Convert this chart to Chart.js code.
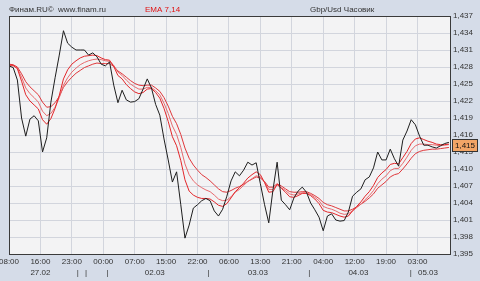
<!DOCTYPE html>
<html lang="ru">
<head>
<meta charset="UTF-8">
<title>Gbp/Usd Часовик</title>
<script src="https://cdn.jsdelivr.net/npm/chart.js@4.4.1/dist/chart.umd.min.js"></script>
<style>
  html, body { margin: 0; padding: 0; background: #d5dce8; }
  #wrap { width: 480px; height: 281px; }
</style>
</head>
<body>
<div id="wrap"><canvas id="chart" width="480" height="281"></canvas></div>
<script>
// time labels under the vertical grid lines (one grid step = 7.5 hourly bars)
const timeLabels = ['08:00','16:00','23:00','00:00','07:00','15:00','22:00','06:00','13:00','21:00','04:00','12:00','19:00','03:00'];
const timeStep = 7.5;
// date labels and day separators (bar index)
const dateLabels = ['27.02','02.03','03.03','04.03','05.03'];
const datePos = [7.5, 34.8, 59.4, 83.4, 100];
const dayMarks = [16.4, 18.4, 23.5, 47.6, 71.7, 95.9];
const yTicks = [1.395,1.398,1.401,1.404,1.407,1.410,1.413,1.416,1.419,1.422,1.425,1.428,1.431,1.434,1.437];

// hourly close
const closes = [1.4282,1.4279,1.4257,1.4190,1.4158,1.4188,1.4194,1.4185,1.4130,1.4155,
  1.4218,1.4261,1.4301,1.4344,1.4322,1.4315,1.4310,1.4310,1.4310,1.4301,
  1.4305,1.4298,1.4285,1.4282,1.4289,1.4248,1.4217,1.4239,1.4222,1.4218,
  1.4219,1.4224,1.4241,1.4259,1.4243,1.4214,1.4195,1.4153,1.4116,1.4077,
  1.4095,1.4037,1.3978,1.4001,1.4031,1.4037,1.4044,1.4048,1.4044,1.4026,
  1.4017,1.4029,1.4052,1.4079,1.4095,1.4088,1.4098,1.4112,1.4107,1.4111,
  1.4074,1.4037,1.4005,1.4063,1.4112,1.4045,1.4037,1.4028,1.4049,1.4061,
  1.4068,1.4059,1.4040,1.4028,1.4015,1.3991,1.4017,1.4021,1.4010,1.4008,
  1.4009,1.4024,1.4052,1.4059,1.4065,1.4081,1.4086,1.4102,1.4130,1.4116,
  1.4116,1.4135,1.4118,1.4105,1.4151,1.4167,1.4187,1.4178,1.4158,1.4142,
  1.4142,1.4139,1.4137,1.4141,1.4145,1.4147];

// EMA 7 (fast red line)
const ema7 = [1.4284,1.4283,1.4277,1.4255,1.4231,1.4220,1.4213,1.4206,1.4187,1.4179,
  1.4189,1.4207,1.4230,1.4259,1.4275,1.4285,1.4291,1.4296,1.4299,1.4300,
  1.4301,1.4300,1.4296,1.4293,1.4292,1.4281,1.4265,1.4259,1.4249,1.4242,
  1.4236,1.4233,1.4235,1.4241,1.4242,1.4235,1.4225,1.4207,1.4184,1.4157,
  1.4141,1.4115,1.4081,1.4061,1.4054,1.4050,1.4048,1.4048,1.4047,1.4042,
  1.4036,1.4034,1.4039,1.4049,1.4060,1.4067,1.4075,1.4084,1.4090,1.4095,
  1.4090,1.4076,1.4059,1.4060,1.4073,1.4066,1.4059,1.4051,1.4050,1.4053,
  1.4057,1.4057,1.4053,1.4047,1.4039,1.4027,1.4024,1.4023,1.4020,1.4017,
  1.4015,1.4017,1.4026,1.4034,1.4042,1.4052,1.4060,1.4071,1.4085,1.4093,
  1.4099,1.4108,1.4110,1.4109,1.4120,1.4131,1.4145,1.4153,1.4155,1.4152,
  1.4149,1.4147,1.4144,1.4143,1.4143,1.4144];

// middle red line
const emaMid = [1.4283,1.4282,1.4278,1.4262,1.4243,1.4233,1.4226,1.4218,1.4202,1.4194,
  1.4198,1.4209,1.4226,1.4248,1.4261,1.4271,1.4278,1.4284,1.4288,1.4291,
  1.4293,1.4294,1.4293,1.4291,1.4290,1.4283,1.4271,1.4265,1.4257,1.4250,
  1.4245,1.4241,1.4241,1.4244,1.4244,1.4238,1.4231,1.4216,1.4198,1.4176,
  1.4161,1.4138,1.4109,1.4090,1.4079,1.4072,1.4067,1.4063,1.4060,1.4054,
  1.4047,1.4044,1.4045,1.4051,1.4059,1.4064,1.4071,1.4078,1.4083,1.4088,
  1.4086,1.4077,1.4064,1.4064,1.4072,1.4067,1.4062,1.4056,1.4054,1.4056,
  1.4058,1.4058,1.4055,1.4050,1.4044,1.4034,1.4031,1.4029,1.4026,1.4022,
  1.4020,1.4021,1.4026,1.4032,1.4038,1.4046,1.4053,1.4062,1.4074,1.4082,
  1.4088,1.4097,1.4101,1.4101,1.4110,1.4121,1.4133,1.4141,1.4144,1.4144,
  1.4143,1.4143,1.4142,1.4141,1.4142,1.4143];

// EMA 14 (slow red line)
const ema14 = [1.4285,1.4284,1.4280,1.4268,1.4254,1.4245,1.4238,1.4231,1.4218,1.4209,
  1.4210,1.4217,1.4228,1.4244,1.4254,1.4262,1.4269,1.4274,1.4279,1.4282,
  1.4285,1.4287,1.4286,1.4286,1.4286,1.4281,1.4273,1.4268,1.4262,1.4256,
  1.4251,1.4248,1.4247,1.4248,1.4248,1.4243,1.4237,1.4226,1.4211,1.4193,
  1.4180,1.4161,1.4137,1.4119,1.4107,1.4098,1.4090,1.4085,1.4079,1.4072,
  1.4065,1.4060,1.4059,1.4062,1.4066,1.4069,1.4073,1.4078,1.4082,1.4086,
  1.4084,1.4078,1.4068,1.4068,1.4074,1.4070,1.4065,1.4060,1.4059,1.4059,
  1.4060,1.4060,1.4057,1.4053,1.4048,1.4041,1.4037,1.4035,1.4032,1.4029,
  1.4026,1.4026,1.4029,1.4033,1.4038,1.4043,1.4049,1.4056,1.4066,1.4072,
  1.4078,1.4086,1.4090,1.4092,1.4100,1.4109,1.4119,1.4127,1.4131,1.4133,
  1.4134,1.4135,1.4135,1.4136,1.4137,1.4138];

const FONT = 'Liberation Sans, Arial, sans-serif';
const pts = arr => arr.map((v, i) => ({ x: i, y: v }));
const fmt = v => v.toFixed(3).replace('.', ',');

const lowerTicks = dateLabels.map((d, i) => ({ value: datePos[i], label: d }))
  .concat(dayMarks.map(v => ({ value: v, label: '|' })));

// backgrounds, frame, header texts and last price box
const decor = {
  id: 'decor',
  beforeDraw(chart) {
    const { ctx, chartArea: a } = chart;
    ctx.save();
    ctx.fillStyle = '#d5dce8';
    ctx.fillRect(0, 0, chart.width, chart.height);
    ctx.fillStyle = '#f3f3f4';
    ctx.fillRect(a.left, a.top, a.right - a.left, a.bottom - a.top);
    ctx.restore();
  },
  afterDraw(chart) {
    const { ctx, chartArea: a } = chart;
    ctx.save();
    ctx.strokeStyle = '#3a3a3a';
    ctx.lineWidth = 1;
    ctx.strokeRect(a.left + 0.5, a.top + 0.5, a.right - a.left - 1, a.bottom - a.top);

    ctx.font = '8px ' + FONT;
    ctx.textBaseline = 'middle';
    ctx.fillStyle = '#333';
    ctx.fillText('Финам.RU©  www.finam.ru', 9, 10);
    ctx.fillText('Gbp/Usd Часовик', 310, 10);
    ctx.fillStyle = '#e01010';
    ctx.fillText('EMA 7,14', 145, 10);

    // last price marker, sits a little below the line end like the original
    const last = closes[closes.length - 1];
    const y = Math.round(chart.scales.y.getPixelForValue(last)) + 3;
    ctx.fillStyle = '#f2a566';
    ctx.fillRect(452.5, y - 5.5, 25, 12);
    ctx.strokeStyle = '#333';
    ctx.strokeRect(452.5, y - 5.5, 25, 12);
    ctx.fillStyle = '#111';
    ctx.fillText(fmt(last), 455, y + 1);
    ctx.restore();
  }
};

const line = (data, color, order) => ({
  data: pts(data), borderColor: color, borderWidth: 1,
  pointRadius: 0, tension: 0, fill: false, order: order
});

new Chart(document.getElementById('chart'), {
  type: 'line',
  data: {
    datasets: [
      line(closes, '#1e1e1e', 0),
      line(ema7, '#e3262a', 1),
      line(emaMid, '#e86a6e', 2),
      line(ema14, '#e0383c', 3)
    ]
  },
  options: {
    responsive: false,
    animation: false,
    devicePixelRatio: 1,
    layout: { padding: { left: 9, top: 16, right: 0, bottom: 0 } },
    plugins: { legend: { display: false }, tooltip: { enabled: false } },
    scales: {
      x: {
        type: 'linear', min: 0, max: 105.5, position: 'bottom',
        afterBuildTicks: s => { s.ticks = timeLabels.map((t, i) => ({ value: i * timeStep })); },
        afterFit: s => { s.height = 12; s.paddingLeft = 0; s.paddingRight = 0; },
        ticks: {
          autoSkip: false, maxRotation: 0, minRotation: 0, padding: 3,
          font: { family: FONT, size: 8 }, color: '#333',
          callback: (v, i) => timeLabels[i]
        },
        grid: { color: '#d2d5dd', drawTicks: false },
        border: { display: false }
      },
      x2: {
        type: 'linear', min: 0, max: 105.5, position: 'bottom',
        afterBuildTicks: s => { s.ticks = lowerTicks.map(t => ({ value: t.value })); },
        afterFit: s => { s.height = 15; s.paddingLeft = 0; s.paddingRight = 0; },
        ticks: {
          autoSkip: false, maxRotation: 0, minRotation: 0, padding: 2,
          font: { family: FONT, size: 8 }, color: '#333',
          callback: (v, i) => lowerTicks[i].label
        },
        grid: { display: false, drawTicks: false },
        border: { display: false }
      },
      y: {
        position: 'right', min: 1.395, max: 1.437,
        afterBuildTicks: s => { s.ticks = yTicks.map(v => ({ value: v })); },
        afterFit: s => { s.width = 29; },
        ticks: {
          padding: 2, font: { family: FONT, size: 8 }, color: '#333',
          callback: v => fmt(v)
        },
        grid: { color: '#d2d5dd', drawTicks: false },
        border: { display: false }
      }
    }
  },
  plugins: [decor]
});
</script>
</body>
</html>
